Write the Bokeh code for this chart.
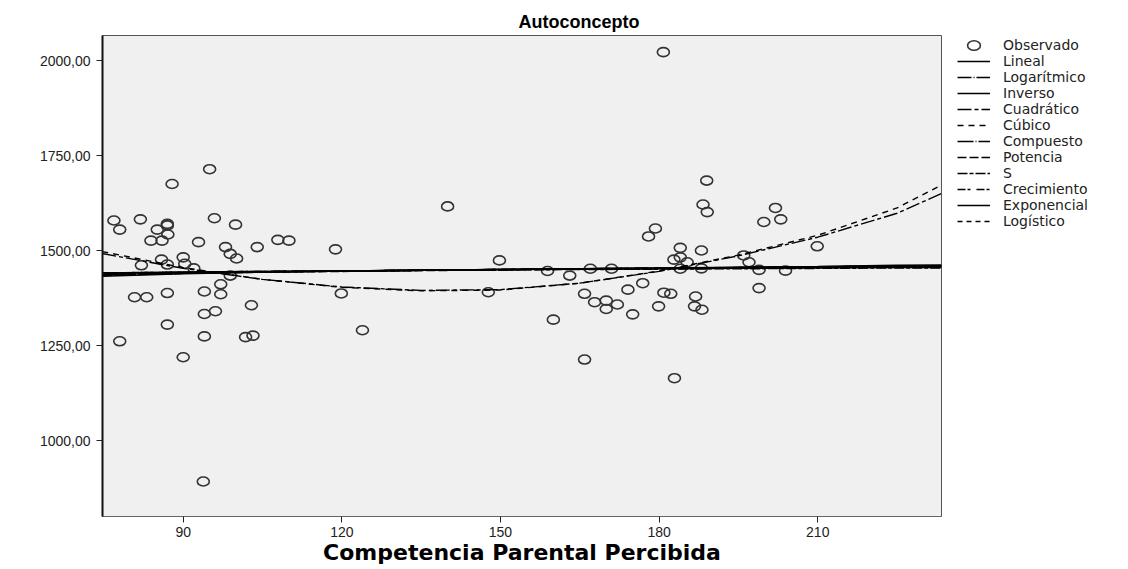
from bokeh.plotting import figure
from bokeh.layouts import row
from bokeh.models import Range1d, FixedTicker, Legend, LegendItem
from bokeh.embed import file_html
from bokeh.resources import INLINE

# ---- observed data ----
obs_x = [76.9, 78.0, 81.9, 85.1, 87.0, 87.0, 87.1, 87.9, 95.0, 95.9,
         99.9, 83.9, 86.0, 92.9, 98.0, 98.9, 100.1, 104.0, 107.9, 110.0,
         118.8, 82.1, 85.9, 87.0, 90.0, 90.3, 92.0, 98.9, 97.1, 80.8,
         83.1, 87.0, 94.0, 97.1, 102.9, 94.0, 96.1, 87.0, 78.0, 94.0,
         101.8, 103.2, 90.0, 93.8, 119.9, 123.9, 140.0, 147.7, 149.8, 158.9,
         163.1, 160.0, 165.9, 165.9, 167.0, 171.0, 167.8, 170.0, 170.0, 172.1,
         174.1, 175.0, 176.9, 178.0, 179.3, 179.9, 180.9, 182.2, 180.8, 182.9,
         184.0, 188.0, 182.8, 184.0, 185.3, 184.0, 188.0, 186.9, 186.7, 188.1,
         188.3, 189.0, 189.1, 196.0, 197.0, 198.9, 198.9, 199.8, 202.0, 203.0,
         203.9, 209.9]
obs_y = [1579, 1555, 1582, 1555, 1570, 1566, 1542, 1675, 1714, 1585,
         1568, 1526, 1526, 1522, 1509, 1491, 1479, 1509, 1528, 1526,
         1503, 1461, 1476, 1463, 1482, 1465, 1453, 1434, 1411, 1377,
         1377, 1388, 1392, 1385, 1356, 1333, 1340, 1305, 1261, 1274,
         1272, 1276, 1219, 892, 1387, 1290, 1616, 1390, 1474, 1446,
         1434, 1318, 1213, 1386, 1452, 1452, 1364, 1368, 1346, 1358,
         1397, 1332, 1414, 1537, 1558, 1353, 1389, 1386, 2022, 1164,
         1507, 1500, 1476, 1482, 1469, 1452, 1453, 1379, 1353, 1344,
         1621, 1684, 1601, 1487, 1469, 1449, 1401, 1575, 1612, 1582,
         1447, 1511]

# ---- fitted curves read at these x positions ----
fit_x = [74.7, 90, 105, 120, 135, 150, 165, 180, 195, 210, 225, 233.4]
lineal      = [1440, 1442, 1444, 1446, 1448, 1450, 1452, 1454, 1456, 1458, 1461, 1462]
logaritmico = [1436, 1440, 1443, 1446, 1448, 1450, 1452, 1454, 1455, 1457, 1458, 1459]
inverso     = [1432, 1439, 1443, 1446, 1448, 1450, 1451, 1452, 1453, 1454, 1455, 1455]
cuadratico  = [1492, 1453, 1424, 1404, 1395, 1397, 1414, 1445, 1486, 1535, 1598, 1650]
cubico      = [1497, 1455, 1424, 1403, 1394, 1396, 1414, 1446, 1488, 1540, 1612, 1672]
compuesto   = [1441, 1443, 1445, 1446, 1448, 1450, 1452, 1453, 1455, 1457, 1459, 1460]
potencia    = [1437, 1440, 1443, 1445, 1447, 1449, 1451, 1453, 1454, 1456, 1457, 1458]
s_curve     = [1434, 1440, 1444, 1446, 1448, 1449, 1450, 1451, 1452, 1453, 1454, 1454]
crecimiento = [1441, 1443, 1445, 1446, 1448, 1450, 1452, 1453, 1455, 1457, 1459, 1460]
exponencial = [1441, 1443, 1445, 1446, 1448, 1450, 1452, 1453, 1455, 1457, 1459, 1460]
logistico   = [1440, 1442, 1444, 1446, 1448, 1449, 1451, 1452, 1454, 1455, 1457, 1458]

y_ticks = [1000, 1250, 1500, 1750, 2000]
y_tick_labels = ["1000,00", "1250,00", "1500,00", "1750,00", "2000,00"]
x_ticks = [90, 120, 150, 180, 210]

FONT = "Liberation Sans"
WIDE = "DejaVu Sans"

p = figure(width=942, height=569,
           x_range=Range1d(74.74, 233.4), y_range=Range1d(800, 2065.8),
           output_backend="svg", toolbar_location=None,
           min_border_left=102, min_border_right=1,
           min_border_top=35, min_border_bottom=53,
           background_fill_color="#F0F0F0", border_fill_color="white",
           outline_line_color="#555555", outline_line_width=1)

p.title.text = "Autoconcepto"
p.title.align = "left"
p.title.offset = 416
p.title.text_font = FONT
p.title.text_font_size = "18px"
p.title.text_font_style = "bold"
p.title.text_color = "black"
p.title.standoff = 7

p.xgrid.visible = False
p.ygrid.visible = False

p.xaxis.ticker = FixedTicker(ticks=x_ticks)
p.yaxis.ticker = FixedTicker(ticks=y_ticks)
p.yaxis.major_label_overrides = {t: l for t, l in zip(y_ticks, y_tick_labels)}
for ax in (p.xaxis, p.yaxis):
    ax.minor_tick_line_color = None
    ax.major_tick_in = 0
    ax.major_tick_out = 6
    ax.major_label_text_font = FONT
    ax.major_label_text_font_size = "14px"
    ax.major_label_text_color = "#222222"
    ax.major_tick_line_color = "#222222"
p.yaxis.axis_line_color = "#111111"
p.yaxis.axis_line_width = 2
p.xaxis.axis_line_color = "#666666"
p.xaxis.axis_line_width = 1
p.yaxis.major_label_standoff = 6
p.xaxis.major_label_standoff = 4
p.xaxis.axis_label = "Competencia Parental Percibida"
p.xaxis.axis_label_text_font = WIDE
p.xaxis.axis_label_text_font_size = "22px"
p.xaxis.axis_label_text_font_style = "bold"
p.xaxis.axis_label_text_color = "black"
p.xaxis.axis_label_standoff = 0

ELL = dict(width=12, height=9, width_units="screen", height_units="screen",
           fill_color=None, line_color="#333333", line_width=1.6)
p.ellipse(obs_x, obs_y, **ELL)

styles = [
    ("Lineal", lineal, "solid"),
    ("Logarítmico", logaritmico, "14 2 1 2"),
    ("Inverso", inverso, "solid"),
    ("Cuadrático", cuadratico, "14 3 4 3"),
    ("Cúbico", cubico, "6 5"),
    ("Compuesto", compuesto, "16 2 1 2"),
    ("Potencia", potencia, "9 3"),
    ("S", s_curve, "10 2 4 2"),
    ("Crecimiento", crecimiento, "8 2 3 6"),
    ("Exponencial", exponencial, "solid"),
    ("Logístico", logistico, "5 4"),
]

for name, ys, dash in styles:
    w = 1.4 if name in ("Cuadrático", "Cúbico") else 1.5
    p.line(fit_x, ys, line_color="black", line_width=w, line_dash=dash)

# ---- legend panel (separate figure to the right) ----
# Its ranges exclude the data, so its renderers only serve as legend keys.
lg = figure(width=186, height=569, x_range=Range1d(0, 1), y_range=Range1d(0, 1),
            output_backend="svg", toolbar_location=None,
            x_axis_type=None, y_axis_type=None,
            min_border=0, min_border_left=0, min_border_right=0,
            min_border_top=0, min_border_bottom=0,
            outline_line_color=None, background_fill_color="white",
            border_fill_color="white")
lg.xgrid.visible = False
lg.ygrid.visible = False

items = [LegendItem(label="Observado", renderers=[lg.ellipse(obs_x, obs_y, **ELL)])]
for name, ys, dash in styles:
    r = lg.line(fit_x, ys, line_color="black", line_width=1.3, line_dash=dash)
    items.append(LegendItem(label=name, renderers=[r]))

# legend top aligned with the frame top (frames of the row are aligned)
legend = Legend(items=items, location=(13, 285))
legend.glyph_width = 33
legend.glyph_height = 16
legend.label_height = 16
legend.spacing = 0
legend.padding = 2
legend.margin = 0
legend.label_standoff = 13
legend.border_line_alpha = 0
legend.background_fill_alpha = 0
legend.label_text_font = WIDE
legend.label_text_font_size = "14px"
legend.label_text_color = "#222222"
lg.add_layout(legend, "center")

layout = row(p, lg, spacing=0)
open("out.html", "w").write(file_html(layout, INLINE))
